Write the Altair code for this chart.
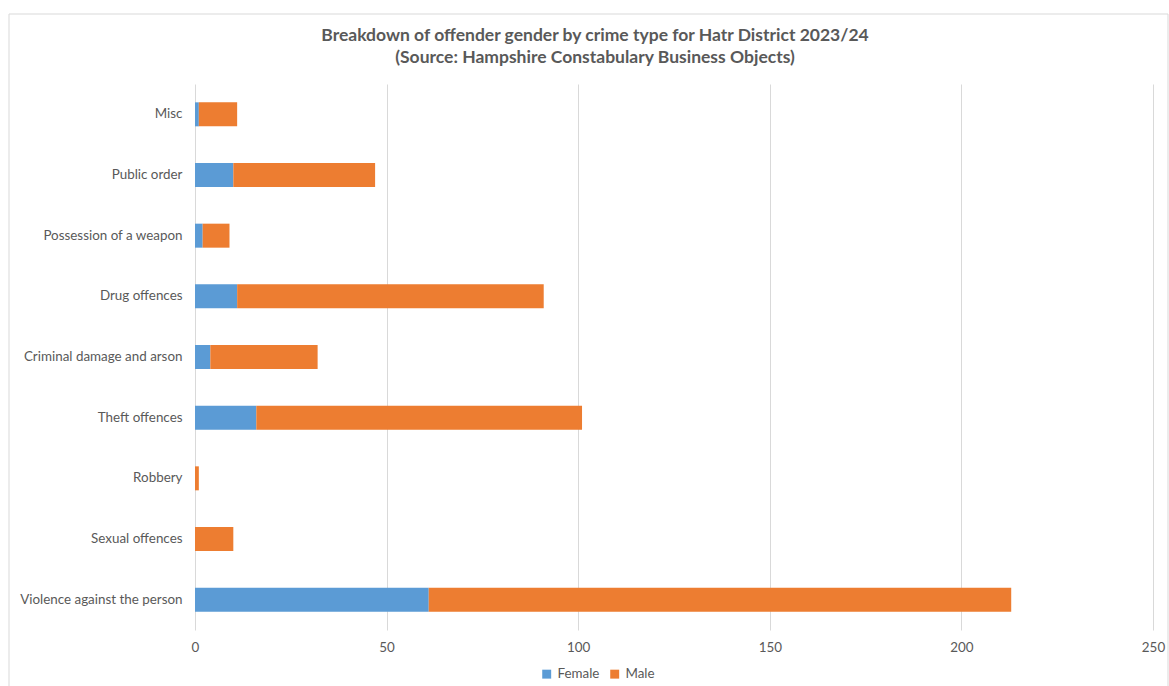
import altair as alt
import pandas as pd

# Crime categories, listed top to bottom
categories = [
    "Misc",
    "Public order",
    "Possession of a weapon",
    "Drug offences",
    "Criminal damage and arson",
    "Theft offences",
    "Robbery",
    "Sexual offences",
    "Violence against the person",
]
female = [1, 10, 2, 11, 4, 16, 0, 0, 61]
male = [10, 37, 7, 80, 28, 85, 1, 10, 152]
genders = ["Female", "Male"]
colors = ["#5B9BD5", "#ED7D31"]
x_ticks = [0, 50, 100, 150, 200, 250]

rows = []
for c, f, m in zip(categories, female, male):
    rows.append({"crime": c, "gender": "Female", "count": f, "k": 0})
    rows.append({"crime": c, "gender": "Male", "count": m, "k": 1})
df = pd.DataFrame(rows)

FONT = "Lato"
GREY = "#595959"
LABEL_SIZE = 13.4

bars = alt.Chart(df).mark_bar(size=24).encode(
    y=alt.Y(
        "crime:N",
        sort=categories,
        title=None,
        scale=alt.Scale(paddingInner=0.6, paddingOuter=0.3),
        axis=alt.Axis(
            domain=False, ticks=False, labelPadding=13, labelFontSize=LABEL_SIZE,
            labelColor=GREY, labelFont=FONT, labelLimit=300,
        ),
    ),
    x=alt.X(
        "count:Q",
        stack="zero",
        title=None,
        scale=alt.Scale(domain=[0, 250], nice=False),
        axis=alt.Axis(
            values=x_ticks, grid=True, gridColor="#D9D9D9", domain=False,
            ticks=False, labelPadding=10, labelFontSize=LABEL_SIZE, labelColor=GREY,
            labelFont=FONT, labelFlush=False,
        ),
    ),
    color=alt.Color(
        "gender:N",
        scale=alt.Scale(domain=genders, range=colors),
        legend=alt.Legend(
            title=None, orient="none", legendX=345, legendY=583,
            direction="horizontal", symbolType="square", symbolSize=80,
            symbolStrokeWidth=0, labelFontSize=LABEL_SIZE, labelColor=GREY,
            labelFont=FONT, columnPadding=8, labelOffset=4,
        ),
    ),
    order=alt.Order("k:Q"),
)

# Light frame around the whole figure
frame = alt.Chart(pd.DataFrame({"a": [0]})).mark_rect(
    fill=None, stroke="#D9D9D9", strokeWidth=1
).encode(
    x=alt.value(-186), x2=alt.value(973), y=alt.value(-70), y2=alt.value(640)
)

chart = alt.layer(frame, bars).properties(
    width=958,
    height=546,
    padding={"left": 195, "top": 84, "right": 16, "bottom": 56},
    autosize=alt.AutoSizeParams(type="none"),
    title=alt.Title(
        text=[
            "Breakdown of offender gender by crime type for Hatr District 2023/24",
            "(Source: Hampshire Constabulary Business Objects)",
        ],
        anchor="middle",
        frame="group",
        dx=-79,
        dy=53,
        offset=0,
        fontSize=17.5,
        fontWeight="bold",
        color=GREY,
        font=FONT,
        lineHeight=22,
    ),
).configure_view(stroke=None)

chart.save("out.html", embed_options={"renderer": "svg", "actions": False})
